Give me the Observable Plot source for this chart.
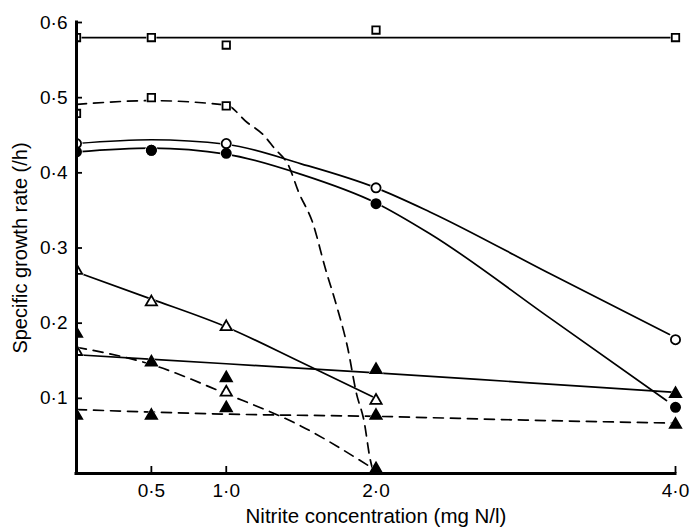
<!DOCTYPE html>
<html><head><meta charset="utf-8">
<script src="https://cdn.jsdelivr.net/npm/d3@7"></script>
<script src="https://cdn.jsdelivr.net/npm/@observablehq/plot@0.6"></script>
<style>body{margin:0;background:#fff;} svg{display:block}</style>
</head><body><div id="chart"></div>
<script>
// ---- data ----
const conc = [0, 0.5, 1, 2, 4];
const xTicks = [0.5, 1, 2, 4];
const yTicks = [0.1, 0.2, 0.3, 0.4, 0.5, 0.6];
const xTitle = "Nitrite concentration (mg N/l)";
const yTitle = "Specific growth rate (/h)";

// measured points at each concentration (null = no point)
const squaresSolid = [0.58, 0.58, 0.57, 0.59, 0.58];
const squaresDashed = [0.479, 0.50, 0.489, null, null];
const circlesOpen = [0.439, 0.43, 0.439, 0.38, 0.178];
const circlesFilled = [0.428, 0.43, 0.426, 0.359, 0.088];
const trianglesOpenSolid = [0.270, 0.228, 0.195, 0.097, null];
const trianglesOpenDashed = [0.162, null, 0.108, null, null];
const trianglesFilledSolid = [0.186, 0.148, 0.127, 0.138, 0.106];
const trianglesFilledDashed = [0.077, 0.077, 0.087, 0.077, 0.065];
const trianglesFilledAxis = [null, null, null, 0.006, null];

// fitted curves (hand-drawn in the original)
const fitSquaresSolidX = [0, 4];
const fitSquaresSolidY = [0.58, 0.58];
const fitSquaresDashedX = [0, 0.5, 1.0, 1.14, 1.25, 1.32, 1.42, 1.48, 1.58, 1.66, 1.74, 1.81, 1.87, 1.92, 1.96, 1.985];
const fitSquaresDashedY = [0.491, 0.496, 0.49, 0.467, 0.45, 0.433, 0.408, 0.376, 0.332, 0.274, 0.221, 0.168, 0.106, 0.07, 0.02, 0.0];
const fitCirclesOpenX = [0, 0.5, 1.0, 1.5, 2.0, 2.36, 3.16, 3.96];
const fitCirclesOpenY = [0.439, 0.444, 0.438, 0.412, 0.38, 0.348, 0.266, 0.185];
const fitCirclesFilledX = [0, 0.5, 1.0, 1.5, 2.0, 2.36, 3.16, 3.94];
const fitCirclesFilledY = [0.428, 0.433, 0.425, 0.398, 0.36, 0.319, 0.207, 0.097];
const fitTrianglesOpenSolidX = [0, 0.5, 1.0, 1.5, 2.0];
const fitTrianglesOpenSolidY = [0.268, 0.232, 0.195, 0.148, 0.10];
const fitTrianglesOpenDashedX = [0, 0.5, 1.0, 1.5, 2.0];
const fitTrianglesOpenDashedY = [0.168, 0.145, 0.106, 0.063, 0.004];
const fitTrianglesFilledSolidX = [0, 1, 2, 3, 4];
const fitTrianglesFilledSolidY = [0.158, 0.146, 0.134, 0.121, 0.108];
const fitTrianglesFilledDashedX = [0, 1, 2, 3, 4];
const fitTrianglesFilledDashedY = [0.085, 0.079, 0.076, 0.071, 0.067];

// ---- build tables ----
const pts = (vals) => conc.map((x, i) => ({x, y: vals[i]})).filter(d => d.y != null);
const fit = (xs, ys) => xs.map((x, i) => ({x, y: ys[i]}));
const fmt = d => d3.format(".1f")(d).replace(".", "\u00B7");

const markerSets = [
  {data: pts(squaresSolid), symbol: "square", fill: "white"},
  {data: pts(squaresDashed), symbol: "square", fill: "white"},
  {data: pts(circlesOpen), symbol: "circle", fill: "white"},
  {data: pts(circlesFilled), symbol: "circle", fill: "black"},
  {data: pts(trianglesOpenSolid), symbol: "triangle", fill: "white"},
  {data: pts(trianglesOpenDashed), symbol: "triangle", fill: "white"},
  {data: pts(trianglesFilledSolid), symbol: "triangle", fill: "black"},
  {data: pts(trianglesFilledDashed), symbol: "triangle", fill: "black"},
  {data: pts(trianglesFilledAxis), symbol: "triangle", fill: "black"}
];
const rOf = s => s === "circle" ? 4.6 : 4.2;

const curves = [
  {data: fit(fitSquaresSolidX, fitSquaresSolidY), dash: null},
  {data: fit(fitSquaresDashedX, fitSquaresDashedY), dash: "10,7"},
  {data: fit(fitCirclesOpenX, fitCirclesOpenY), dash: null},
  {data: fit(fitCirclesFilledX, fitCirclesFilledY), dash: null},
  {data: fit(fitTrianglesOpenSolidX, fitTrianglesOpenSolidY), dash: null},
  {data: fit(fitTrianglesOpenDashedX, fitTrianglesOpenDashedY), dash: "10,7"},
  {data: fit(fitTrianglesFilledSolidX, fitTrianglesFilledSolidY), dash: null},
  {data: fit(fitTrianglesFilledDashedX, fitTrianglesFilledDashedY), dash: "10,7"}
];

// markers on the y axis are half hidden behind it (clipped); others drawn whole
const dotMarks = (m, halo) => {
  const opts = halo
    ? {r: rOf(m.symbol) + 1.5, fill: "white", stroke: "none"}
    : {r: rOf(m.symbol), fill: m.fill, stroke: "black", strokeWidth: 1.8};
  return [
    Plot.dot(m.data.filter(d => d.x === 0), {x: "x", y: "y", symbol: () => m.symbol, clip: true, ...opts}),
    Plot.dot(m.data.filter(d => d.x !== 0), {x: "x", y: "y", symbol: () => m.symbol, ...opts})
  ];
};

const chart = Plot.plot({
  width: 692,
  height: 529,
  marginLeft: 76,
  marginRight: 17,
  marginTop: 22,
  marginBottom: 56,
  style: {fontFamily: "'Liberation Sans', Arial, sans-serif", fontSize: "19px", color: "black", background: "white"},
  x: {domain: [0, 4]},
  y: {domain: [0, 0.6]},
  marks: [
    ...curves.map(c => Plot.line(c.data, {x: "x", y: "y", curve: "monotone-x", stroke: "black", strokeWidth: 1.7, strokeDasharray: c.dash})),
    ...markerSets.flatMap(m => dotMarks(m, true)),
    ...markerSets.flatMap(m => dotMarks(m, false)),
    Plot.ruleX([0], {stroke: "black", strokeWidth: 3, strokeLinecap: "square"}),
    Plot.ruleY([0], {stroke: "black", strokeWidth: 3, strokeLinecap: "square"}),
    Plot.axisY({ticks: yTicks, tickFormat: fmt, tickSize: -6, tickPadding: 15, strokeWidth: 1.8, label: null}),
    Plot.axisX({ticks: xTicks, tickFormat: fmt, tickSize: -7, tickPadding: 17, strokeWidth: 1.8, label: null}),
    Plot.text([xTitle], {frameAnchor: "bottom", dy: 43, lineAnchor: "middle", textAnchor: "middle", fontSize: 20.5, text: d => d}),
    Plot.text([yTitle], {frameAnchor: "left", dx: -56, rotate: -90, lineAnchor: "middle", textAnchor: "middle", fontSize: 20, text: d => d})
  ]
});
document.getElementById("chart").appendChild(chart);
</script>
</body></html>
